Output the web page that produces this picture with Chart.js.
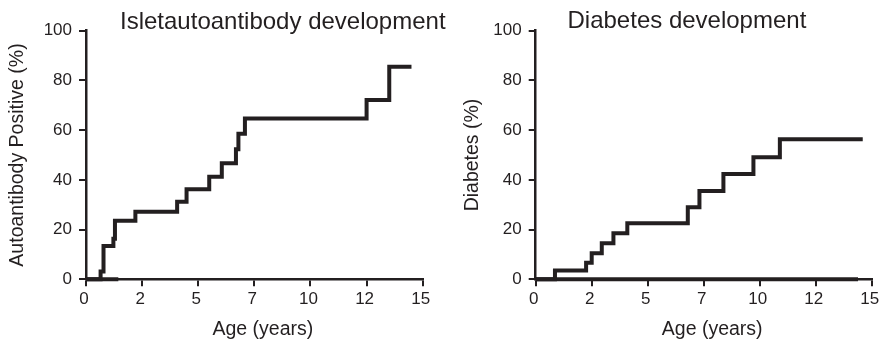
<!DOCTYPE html>
<html><head><meta charset="utf-8">
<script src="https://cdn.jsdelivr.net/npm/chart.js@4"></script>
<style>
html,body{margin:0;padding:0;background:#fff;}
#wrap{position:relative;width:880px;height:340px;overflow:hidden;background:#fff;}
#c1{position:absolute;left:0;top:0;}
#c2{position:absolute;left:440px;top:0;}
</style></head><body>
<div id="wrap"><canvas id="c1" width="460" height="340"></canvas><canvas id="c2" width="440" height="340"></canvas></div>
<script>
// ---- data ----
const xTickLabels = ['0', '2', '5', '7', '10', '12', '15'];
const aabAges = [0, 0.65, 0.78, 1.22, 1.29, 2.2, 4.06, 4.48, 5.49, 6.05, 6.68, 6.79, 7.08, 12.5, 13.51, 14.5];
const aabPct  = [0, 3.1, 13.4, 16.3, 23.6, 27.2, 31.2, 36.2, 41.3, 46.7, 52.3, 58.5, 64.7, 72.1, 85.5, 85.5];
const aabRefAges = [0, 1.44];
const aabRefPct  = [0, 0];
const dmAges = [0, 0.86, 2.25, 2.5, 2.95, 3.47, 4.09, 6.79, 7.31, 8.38, 9.72, 10.9, 14.6];
const dmPct  = [0, 3.5, 6.7, 10.5, 14.5, 18.5, 22.5, 29.0, 35.5, 42.4, 49.1, 56.3, 56.3];
const dmRefAges = [0, 14.39];
const dmRefPct  = [0, 0];

const INK = '#231f20';
const FAM = '"Liberation Sans", Arial, Helvetica, sans-serif';

const textPlugin = {
  id: 'extraText',
  afterDraw(chart, args, opts) {
    const ctx = chart.ctx, a = chart.chartArea;
    ctx.save();
    for (const t of (opts.items || [])) {
      ctx.font = t.size + 'px ' + FAM;
      ctx.fillStyle = INK;
      ctx.textAlign = t.align;
      ctx.textBaseline = 'alphabetic';
      const base = t.anchor === 'center' ? (a.left + a.right) / 2 : a.left;
      ctx.fillText(t.text, base + t.dx, t.y);
    }
    ctx.restore();
  }
};

function pts(xs, ys) { return xs.map((x, i) => ({x: x, y: ys[i]})); }

function makeChart(id, ages, pct, refAges, refPct, yTitle, title, L) {
  return new Chart(document.getElementById(id), {
    type: 'line',
    data: {
      datasets: [
        {data: pts(ages, pct), stepped: 'before', borderColor: INK, borderWidth: 4, pointRadius: 0, fill: false, clip: false, borderJoinStyle: 'miter', borderCapStyle: 'butt'},
        {data: pts(refAges, refPct), stepped: 'before', borderColor: INK, borderWidth: 4, pointRadius: 0, fill: false, clip: false}
      ]
    },
    options: {
      responsive: false,
      animation: false,
      events: [],
      layout: {padding: {left: 0, right: L.padRight, top: 30.7, bottom: 0}},
      plugins: {
        legend: {display: false},
        tooltip: {enabled: false},
        extraText: {items: [
          {text: title, size: 24, align: 'left', anchor: 'left', dx: L.titleDx, y: L.titleY},
          {text: 'Age (years)', size: 19.5, align: 'center', anchor: 'center', dx: 8.5, y: 335}
        ]}
      },
      scales: {
        x: {
          type: 'linear', min: 0, max: 15,
          afterFit(s) { s.height = 60.7; s.paddingLeft = 0; s.paddingRight = 0; },
          ticks: {stepSize: 2.5, autoSkip: false, maxRotation: 0, padding: 3, labelOffset: -2,
                  color: INK, font: {size: 17, family: FAM},
                  callback: (v, i) => xTickLabels[i]},
          grid: {display: true, drawOnChartArea: false, drawTicks: true, tickLength: 7, color: INK, lineWidth: 2},
          border: {display: true, color: INK, width: 2.5}
        },
        y: {
          type: 'linear', min: 0, max: 100,
          afterFit(s) { s.width = L.yWidth; s.paddingTop = 0; s.paddingBottom = 0; },
          ticks: {stepSize: 20, padding: 7, color: INK, font: {size: 17, family: FAM}},
          grid: {display: true, drawOnChartArea: false, drawTicks: true, tickLength: 7, color: INK, lineWidth: 2},
          border: {display: true, color: INK, width: 2.5},
          title: {display: true, text: yTitle, color: INK, font: {size: 19.5, family: FAM}, padding: {top: L.yTitlePad, bottom: 0}}
        }
      }
    },
    plugins: [textPlugin]
  });
}

makeChart('c1', aabAges, aabPct, aabRefAges, aabRefPct, 'Autoantibody Positive (%)', 'Isletautoantibody development',
  {padRight: 37.3, yWidth: 86, yTitlePad: 6.3, titleDx: 34, titleY: 29.3});
makeChart('c2', dmAges, dmPct, dmRefAges, dmRefPct, 'Diabetes (%)', 'Diabetes development',
  {padRight: 8.3, yWidth: 95.7, yTitlePad: 20.5, titleDx: 31.8, titleY: 27.5});
</script>
</body></html>
